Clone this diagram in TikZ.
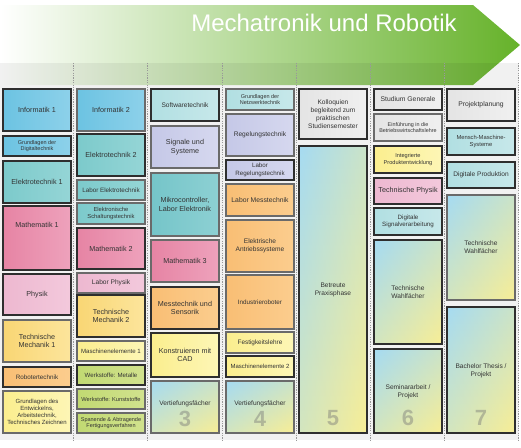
\documentclass[tikz,border=0pt]{standalone}
\usepackage{fontspec}
\setmainfont{Liberation Sans}
\definecolor{agreen}{HTML}{66B22A}
\definecolor{bdark}{HTML}{2E2E2E}
\definecolor{bgray}{HTML}{6A6A6A}
\definecolor{txt}{HTML}{333333}
\definecolor{blueL}{HTML}{6CC3E2}\definecolor{blueR}{HTML}{8DD1EA}
\definecolor{tealL}{HTML}{7CCACB}\definecolor{tealR}{HTML}{95D5D6}
\definecolor{pinkL}{HTML}{E684A4}\definecolor{pinkR}{HTML}{EEA2BC}
\definecolor{lpinkL}{HTML}{EDB8D0}\definecolor{lpinkR}{HTML}{F3C9DC}
\definecolor{yelL}{HTML}{F9D674}\definecolor{yelR}{HTML}{FCE59C}
\definecolor{orL}{HTML}{F9BE74}\definecolor{orR}{HTML}{FBCD8E}
\definecolor{lyelL}{HTML}{FBEE8E}\definecolor{lyelR}{HTML}{FDF6B6}
\definecolor{grL}{HTML}{C1D972}\definecolor{grR}{HTML}{D1E28E}
\definecolor{lcyL}{HTML}{B1DFE2}\definecolor{lcyR}{HTML}{C7E8EA}
\definecolor{lavL}{HTML}{C5C8E7}\definecolor{lavR}{HTML}{D6D8EF}
\definecolor{mikL}{HTML}{75C5C9}\definecolor{mikR}{HTML}{8DD0D3}
\definecolor{gryL}{HTML}{E4E4E4}\definecolor{gryR}{HTML}{F0F0F0}
\definecolor{vBlue}{HTML}{A6DBF2}\definecolor{vYel}{HTML}{F8EE96}
\tikzset{
  mbox/.style={draw=bdark, line width=1.1pt, inner sep=1pt, outer sep=0pt, align=center, text=txt,
    font=\fontsize{7.2}{8.6}\selectfont},
  gb/.style={draw=bgray},
  fs/.style={font=\fontsize{#1}{\dimexpr #1pt*12/10\relax}\selectfont},
  fblue/.style={left color=blueL,right color=blueR},
  fteal/.style={left color=tealL,right color=tealR},
  fpink/.style={left color=pinkL,right color=pinkR},
  flpink/.style={left color=lpinkL,right color=lpinkR},
  fyel/.style={left color=yelL,right color=yelR},
  forange/.style={left color=orL,right color=orR},
  flyel/.style={left color=lyelL,right color=lyelR},
  fgreen/.style={left color=grL,right color=grR},
  flcy/.style={left color=lcyL,right color=lcyR},
  flav/.style={left color=lavL,right color=lavR},
  fmik/.style={left color=mikL,right color=mikR},
  fgry/.style={left color=gryL,right color=gryR},
  plain/.style={align=center, text=txt, inner sep=0pt, font=\fontsize{7.2}{8.6}\selectfont},
  digit/.style={font=\fontsize{22}{22}\bfseries\selectfont, text=black!55, text opacity=0.42,
    inner sep=0pt, text height=15.5pt, text depth=0pt},
  sep/.style={draw=black!40, line width=0.5pt, dash pattern=on 1.2pt off 1.2pt}
}
\newcommand\mb[7]{\node[mbox,#6,minimum width={#4-#2},minimum height={#5-#3}] (#1) at ({(#2+#4)/2},{(#3+#5)/2}) {#7};}
% diagonal-gradient box: name, x1,y1,x2,y2, border colour, text y, text (font size via plain)
\newcommand\vb[8]{%
  \node[mbox,draw=none,left color=vBlue,right color=vYel,minimum width={#4-#2},minimum height={#5-#3}] (#1) at ({(#2+#4)/2},{(#3+#5)/2}) {};
  \shade[top color=vBlue,bottom color=vYel,fill opacity=0.55] (#1.south west) rectangle (#1.north east);
  \draw[draw=#6,line width=1.1pt] (#1.south west) rectangle (#1.north east);
  \node[plain,fs=6.6] (#1t) at ({(#2+#4)/2},#7) {#8};}
\begin{document}
\begin{tikzpicture}[x=1pt,y=-1pt]
\useasboundingbox (0,0) rectangle (521,447);
% header arrow
\shade[left color=white,right color=agreen] (0,5) -- (473,5) -- (520,45) -- (473,85) -- (0,85) -- cycle;
\node[font=\fontsize{24}{28}\selectfont, text=white] (title) at (324,23) {Mechatronik und Robotik};
% background band
\fill[black, opacity=0.055] (0,63) rectangle (519,440);
\foreach \x in {73.5,147.5,222,296,370.5,444.5,518.5} \draw[sep] (\x,63) -- (\x,440);
% column 1
\mb{inf1}{3}{89}{71}{131}{fblue}{Informatik 1}
\mb{gdt}{3}{136}{71}{156}{fblue,fs=5.5}{Grundlagen der\\Digitaltechnik}
\mb{et1}{3}{161}{71}{203}{fteal}{Elektrotechnik 1}
\mb{ma1}{3}{206}{71}{270}{fpink}{}
\node[plain] (ma1t) at (37,225) {Mathematik 1};
\mb{phy}{3}{274}{71}{315}{flpink}{Physik}
\mb{tm1}{3}{320}{71}{362}{fyel,gb}{Technische\\Mechanik 1}
\mb{rob}{3}{367}{71}{387}{forange,fs=6.3}{Robotertechnik}
\mb{gde}{3}{391}{71}{433}{flyel,gb,fs=6.0}{Grundlagen des\\Entwickelns,\\Arbeitstechnik,\\Technisches Zeichnen}
% column 2
\mb{inf2}{77}{89}{145}{131}{fblue,gb}{Informatik 2}
\mb{et2}{77}{134}{145}{176}{fteal}{Elektrotechnik 2}
\mb{let}{77}{180}{145}{200}{fteal,gb,fs=6.3}{Labor Elektrotechnik}
\mb{est}{77}{203}{145}{224}{fteal,gb,fs=5.8}{Elektronische\\Schaltungstechnik}
\mb{ma2}{77}{228}{145}{269}{fpink}{Mathematik 2}
\mb{lph}{77}{273}{145}{293}{flpink,gb,fs=6.6}{Labor Physik}
\mb{tm2}{77}{295}{145}{337}{fyel}{Technische\\Mechanik 2}
\mb{me1}{77}{341}{145}{361}{flyel,gb,fs=6.1}{Maschinenelemente 1}
\mb{wsm}{77}{365}{145}{385}{fgreen,fs=6.1}{Werkstoffe: Metalle}
\mb{wsk}{77}{389}{145}{409}{fgreen,gb,fs=5.7}{Werkstoffe: Kunststoffe}
\mb{sfv}{77}{413}{145}{433}{fgreen,gb,fs=5.5}{Spanende \& Abtragende\\Fertigungsverfahren}
% column 3
\mb{swt}{151}{89}{219}{121}{flcy,fs=6.6}{Softwaretechnik}
\mb{sus}{151}{126}{219}{168}{flav,gb}{Signale und\\Systeme}
\mb{mik}{151}{173}{219}{236}{fmik,gb}{Mikrocontroller,\\Labor Elektronik}
\mb{ma3}{151}{240}{219}{282}{fpink,gb}{Mathematik 3}
\mb{mss}{151}{287}{219}{329}{forange}{Messtechnik und\\Sensorik}
\mb{cad}{151}{333}{219}{377}{flyel}{Konstruieren mit\\CAD}
\vb{vt3}{151}{381}{219}{433}{bgray}{403.5}{Vertiefungsfächer}
% column 4
\mb{gnt}{226}{89}{294}{110}{flcy,gb,fs=5.5}{Grundlagen der\\Netzwerktechnik}
\mb{rgt}{226}{114}{294}{156}{flav,gb,fs=6.6}{Regelungstechnik}
\mb{lrg}{226}{160}{294}{180}{flav,fs=6.2}{Labor\\Regelungstechnik}
\mb{lmt}{226}{184}{294}{216}{forange,gb,fs=6.8}{Labor Messtechnik}
\mb{ean}{226}{220}{294}{272}{forange,gb,fs=6.6}{Elektrische\\Antriebssysteme}
\mb{ird}{226}{275}{294}{329}{forange,gb,fs=6.3}{Industrieroboter}
\mb{fsl}{226}{332}{294}{353}{flyel,gb,fs=6.4}{Festigkeitslehre}
\mb{me2}{226}{356}{294}{377}{flyel,fs=6.0}{Maschinenelemente 2}
\vb{vt4}{226}{381}{294}{433}{bgray}{403.5}{Vertiefungsfächer}
% column 5
\mb{kol}{299}{89}{367}{139}{fgry,fs=6.6}{Kolloquien\\begleitend zum\\praktischen\\Studiensemester}
\vb{bpp}{299}{146}{367}{433}{bdark}{289.5}{Betreute\\Praxisphase}
% column 6
\mb{stg}{374}{89}{442}{110}{fgry,fs=6.8}{Studium Generale}
\mb{bwl}{374}{114}{442}{141}{fgry,gb,fs=5.4}{Einführung in die\\Betriebswirtschaftslehre}
\mb{ipe}{374}{146}{442}{173}{flyel,fs=5.6}{Integrierte\\Produktentwicklung}
\mb{tph}{374}{178}{442}{204}{flpink,fs=7.2}{Technische Physik}
\mb{dsv}{374}{208}{442}{235}{flcy,fs=6.2}{Digitale\\Signalverarbeitung}
\vb{tw6}{374}{240}{442}{344}{bdark}{292}{Technische\\Wahlfächer}
\vb{sem}{374}{349}{442}{433}{bdark}{391.5}{Seminararbeit /\\Projekt}
% column 7
\mb{prp}{447}{89}{515}{121}{fgry,fs=6.8}{Projektplanung}
\mb{mms}{447}{128}{515}{155}{flcy,fs=5.8}{Mensch-Maschine-\\Systeme}
\mb{dpr}{447}{162}{515}{188}{flcy,fs=6.6}{Digitale Produktion}
\vb{tw7}{447}{195}{515}{300}{bgray}{247.5}{Technische\\Wahlfächer}
\vb{bth}{447}{307}{515}{433}{bdark}{370.5}{Bachelor Thesis /\\Projekt}
% semester digits
\node[digit] (d3) at (185,419) {3};
\node[digit] (d4) at (260,419) {4};
\node[digit] (d5) at (333,418) {5};
\node[digit] (d6) at (408,418) {6};
\node[digit] (d7) at (481,418) {7};
\end{tikzpicture}
\end{document}
